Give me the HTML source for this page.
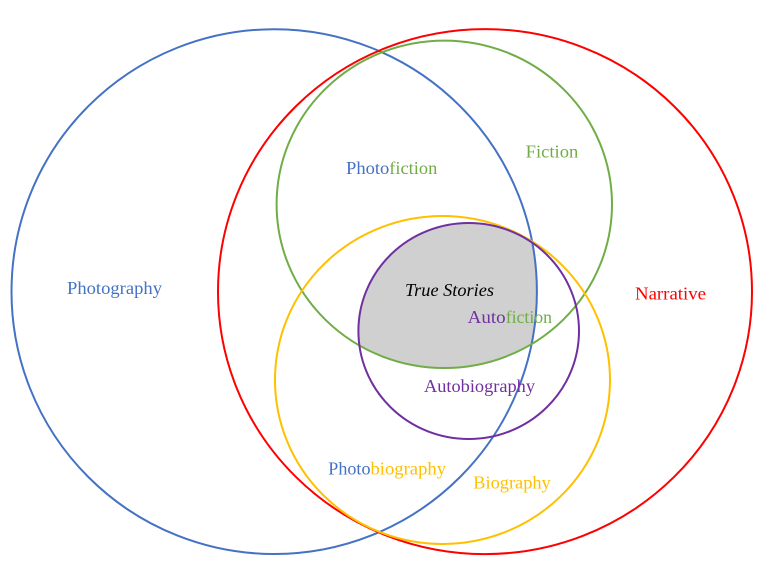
<!DOCTYPE html>
<html>
<head>
<meta charset="utf-8">
<style>
  html, body { margin: 0; padding: 0; background: #ffffff; }
  body { width: 783px; height: 584px; overflow: hidden; }
  svg { display: block; }
  text { font-family: "Liberation Serif", "Times New Roman", serif; font-size: 18px; }
</style>
</head>
<body>
<svg width="783" height="584" viewBox="0 0 783 584" xmlns="http://www.w3.org/2000/svg">
  <defs>
    <clipPath id="clipGreen">
      <ellipse cx="444.3" cy="204.3" rx="167.7" ry="163.7"/>
    </clipPath>
    <clipPath id="clipBlue">
      <ellipse cx="274.2" cy="291.6" rx="262.7" ry="262.4"/>
    </clipPath>
  </defs>

  <!-- Gray intersection: purple ∩ green ∩ blue -->
  <g clip-path="url(#clipBlue)">
    <ellipse cx="468.7" cy="331" rx="110.3" ry="108" fill="#D0D0D0" clip-path="url(#clipGreen)"/>
  </g>

  <!-- Circles -->
  <ellipse cx="274.2" cy="291.6" rx="262.7" ry="262.4" fill="none" stroke="#4472C4" stroke-width="2"/>
  <ellipse cx="485" cy="291.6" rx="267" ry="262.5" fill="none" stroke="#FF0000" stroke-width="2"/>
  <ellipse cx="444.3" cy="204.3" rx="167.7" ry="163.7" fill="none" stroke="#70AD47" stroke-width="2"/>
  <ellipse cx="442.5" cy="380" rx="167.5" ry="164" fill="none" stroke="#FFC000" stroke-width="2"/>
  <ellipse cx="468.7" cy="331" rx="110.3" ry="108" fill="none" stroke="#7030A0" stroke-width="2"/>

  <!-- Labels -->
  <text x="67" y="294" fill="#4472C4" textLength="95" lengthAdjust="spacingAndGlyphs">Photography</text>

  <text x="346" y="174" fill="#4472C4" textLength="43.3" lengthAdjust="spacingAndGlyphs">Photo</text>
  <text x="389.3" y="174" fill="#70AD47" textLength="48" lengthAdjust="spacingAndGlyphs">fiction</text>

  <text x="525.7" y="157.7" fill="#70AD47" textLength="52.6" lengthAdjust="spacingAndGlyphs">Fiction</text>

  <text x="405" y="296" fill="#000000" font-style="italic" textLength="89" lengthAdjust="spacingAndGlyphs">True Stories</text>

  <text x="467.7" y="323" fill="#7030A0" textLength="38" lengthAdjust="spacingAndGlyphs">Auto</text>
  <text x="505.7" y="323" fill="#70AD47" textLength="46.3" lengthAdjust="spacingAndGlyphs">fiction</text>

  <text x="635" y="299.3" fill="#FF0000" textLength="71" lengthAdjust="spacingAndGlyphs">Narrative</text>

  <text x="424" y="392" fill="#7030A0" textLength="111" lengthAdjust="spacingAndGlyphs">Autobiography</text>

  <text x="328.3" y="474.3" fill="#4472C4" textLength="42.2" lengthAdjust="spacingAndGlyphs">Photo</text>
  <text x="370.5" y="474.3" fill="#FFC000" textLength="75.5" lengthAdjust="spacingAndGlyphs">biography</text>

  <text x="473.3" y="488.3" fill="#FFC000" textLength="77.4" lengthAdjust="spacingAndGlyphs">Biography</text>
</svg>
</body>
</html>
